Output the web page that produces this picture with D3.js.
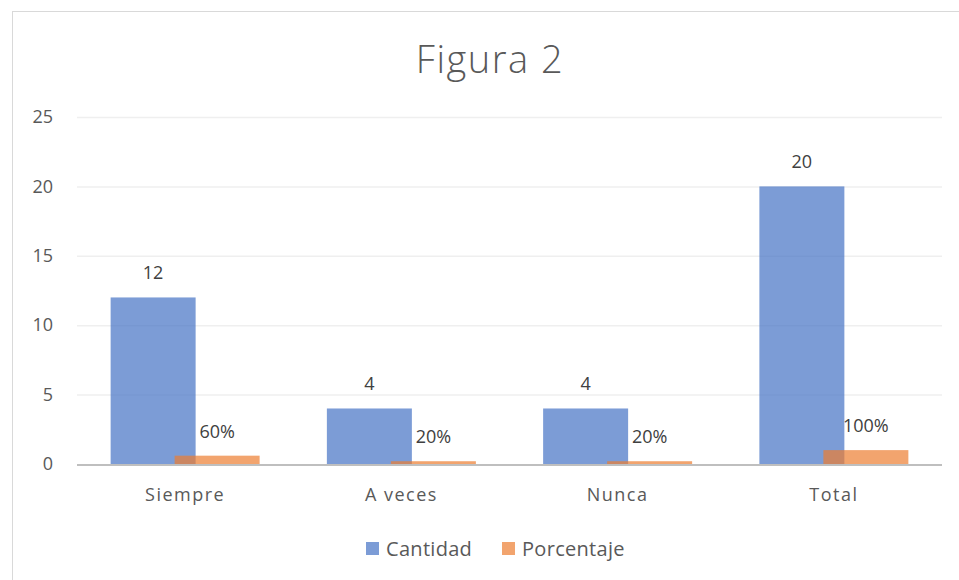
<!DOCTYPE html>
<html>
<head>
    <meta charset="utf-8">
    <title>Figura 2</title>
    <script src="https://d3js.org/d3.v7.min.js"></script>
    <style>
        body { margin: 0; background: #fff; }
        text { font-family: 'Open Sans', sans-serif; fill: #595959; }
    </style>
</head>
<body>
    <svg id="chart" width="959" height="580"></svg>
    <script type="text/javascript">
        // data
        var categories = ["Siempre", "A veces", "Nunca", "Total"];
        var cantidad = [12, 4, 4, 20];
        var porcentaje = [0.6, 0.2, 0.2, 1];
        var porcentajeLabels = ["60%", "20%", "20%", "100%"];
        var yTicks = [0, 5, 10, 15, 20, 25];
        var seriesNames = ["Cantidad", "Porcentaje"];
        var seriesColors = ["#4472C4", "#ED7D31"];

        var svg = d3.select("#chart");

        // chart frame
        svg.append("rect")
            .attr("x", 12.5).attr("y", 11.5)
            .attr("width", 970).attr("height", 590)
            .attr("fill", "none")
            .attr("stroke", "#D9D9D9");

        svg.append("text")
            .attr("x", 490).attr("y", 73)
            .attr("text-anchor", "middle")
            .style("font-size", "38px")
            .style("font-weight", 300)
            .style("letter-spacing", "1.5px")
            .text("Figura 2");

        var x = d3.scaleBand().domain(categories).range([77, 942]);
        var y = d3.scaleLinear().domain([0, 25]).range([464, 117]);

        // gridlines
        svg.append("g")
            .selectAll("line")
            .data(yTicks.filter(function(d) { return d > 0; }))
            .enter().append("line")
            .attr("x1", 77).attr("x2", 942)
            .attr("y1", function(d) { return y(d) + 0.5; })
            .attr("y2", function(d) { return y(d) + 0.5; })
            .attr("stroke", "#EFEFEF")
            .attr("stroke-width", 1.5);

        // y axis labels
        var yAxis = d3.axisLeft(y).tickValues(yTicks).tickSize(0).tickPadding(0);
        var gy = svg.append("g").attr("transform", "translate(53,0)").call(yAxis);
        gy.select(".domain").remove();
        gy.selectAll("text")
            .style("font-size", "18px")
            .style("font-family", "'Open Sans', sans-serif")
            .style("fill", "#595959");

        var barW = 85, shift = 64;

        // Cantidad bars
        svg.append("g").selectAll("rect")
            .data(cantidad)
            .enter().append("rect")
            .attr("x", function(d, i) { return x(categories[i]) + x.bandwidth() / 2 - 74.5; })
            .attr("y", function(d) { return y(d); })
            .attr("width", barW)
            .attr("height", function(d) { return y(0) - y(d); })
            .attr("fill", seriesColors[0])
            .attr("fill-opacity", 0.7);

        // Porcentaje bars
        svg.append("g").selectAll("rect")
            .data(porcentaje)
            .enter().append("rect")
            .attr("x", function(d, i) { return x(categories[i]) + x.bandwidth() / 2 - 74.5 + shift; })
            .attr("y", function(d) { return y(d); })
            .attr("width", barW)
            .attr("height", function(d) { return y(0) - y(d); })
            .attr("fill", seriesColors[1])
            .attr("fill-opacity", 0.7);

        // value labels
        svg.append("g").selectAll("text")
            .data(cantidad)
            .enter().append("text")
            .attr("x", function(d, i) { return x(categories[i]) + x.bandwidth() / 2 - 74.5 + barW / 2; })
            .attr("y", function(d) { return y(d) - 18; })
            .attr("text-anchor", "middle")
            .style("font-size", "18px")
            .style("fill", "#404040")
            .text(function(d) { return d; });

        svg.append("g").selectAll("text")
            .data(porcentaje)
            .enter().append("text")
            .attr("x", function(d, i) { return x(categories[i]) + x.bandwidth() / 2 - 74.5 + shift + barW / 2; })
            .attr("y", function(d) { return y(d) - 18; })
            .attr("text-anchor", "middle")
            .style("font-size", "18px")
            .style("fill", "#404040")
            .text(function(d, i) { return porcentajeLabels[i]; });

        // x axis
        svg.append("line")
            .attr("x1", 77).attr("x2", 942)
            .attr("y1", 465).attr("y2", 465)
            .attr("stroke", "#BFBFBF")
            .attr("stroke-width", 2);

        svg.append("g").selectAll("text")
            .data(categories)
            .enter().append("text")
            .attr("x", function(d) { return x(d) + x.bandwidth() / 2; })
            .attr("y", 501)
            .attr("text-anchor", "middle")
            .style("font-size", "18px")
            .style("letter-spacing", "1.5px")
            .text(function(d) { return d; });

        // legend
        var legendX = [366, 502];
        var legend = svg.append("g");
        seriesNames.forEach(function(name, i) {
            legend.append("rect")
                .attr("x", legendX[i]).attr("y", 542)
                .attr("width", 13).attr("height", 13)
                .attr("fill", seriesColors[i])
                .attr("fill-opacity", 0.7);
            legend.append("text")
                .attr("x", legendX[i] + 20).attr("y", 556)
                .style("font-size", "20px")
                .style("letter-spacing", "0.3px")
                .text(name);
        });
    </script>
</body>
</html>
